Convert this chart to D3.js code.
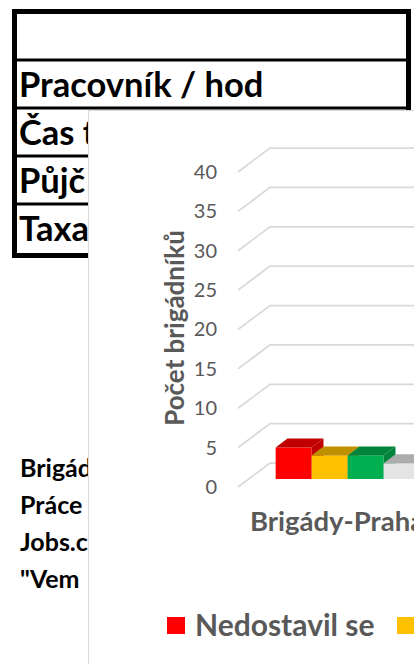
<!DOCTYPE html>
<html>
<head>
<meta charset="utf-8">
<script src="https://cdn.jsdelivr.net/npm/d3@7"></script>
<style>
  html, body { margin: 0; padding: 0; background: #fff; }
  svg { display: block; font-family: Lato, "Open Sans", sans-serif; }
</style>
</head>
<body>
<svg id="main_svg" width="414" height="664"></svg>
<script>
// sheet cells behind the chart
const tableRows = ['', 'Pracovník / hod', 'Čas t', 'Půjč', 'Taxa'];
const sourceRows = ['Brigád', 'Práce', 'Jobs.c', '"Vem'];

// chart data
const categories = ['Brigády-Praha'];
const seriesNames = ['Nedostavil se', 'Řada 2', 'Řada 3', 'Řada 4'];
const seriesValues = [4, 3, 3, 2];
const yTicks = [0, 5, 10, 15, 20, 25, 30, 35, 40];

const frontColor = d3.scaleOrdinal(seriesNames, ['#ff0000', '#ffc000', '#00b050', '#e4e4e4']);
const topColor = d3.scaleOrdinal(seriesNames, ['#c00000', '#bf9000', '#00843c', '#acacac']);
const textGrey = '#595959';

const svg = d3.select('#main_svg');

// table
/////////////////////////////////////
const rowScale = d3.scaleBand()
  .domain(d3.range(tableRows.length))
  .range([12, 252]);

svg.append('g')
  .selectAll('text')
  .data(tableRows)
  .enter()
  .append('text')
  .attr('x', 19)
  .attr('y', (d, i) => rowScale(i) + rowScale.bandwidth() - 11)
  .style('font-size', '34.5px')
  .style('font-weight', 700)
  .attr('fill', '#000')
  .text(d => d);

// row separators
svg.append('g')
  .selectAll('line')
  .data(d3.range(1, tableRows.length))
  .enter()
  .append('line')
  .attr('x1', 14)
  .attr('x2', 408)
  .attr('y1', i => rowScale(i))
  .attr('y2', i => rowScale(i))
  .attr('stroke', '#000')
  .attr('stroke-width', 3);

// outer border
svg.append('rect')
  .attr('x', 14.5)
  .attr('y', 11.5)
  .attr('width', 394)
  .attr('height', 244)
  .attr('fill', 'none')
  .attr('stroke', '#000')
  .attr('stroke-width', 5);

// source list under the table
svg.append('g')
  .selectAll('text')
  .data(sourceRows)
  .enter()
  .append('text')
  .attr('x', 20)
  .attr('y', (d, i) => 477 + i * 37)
  .style('font-size', '25px')
  .style('font-weight', 700)
  .attr('fill', '#000')
  .text(d => d);

// chart area
/////////////////////////////////////
svg.append('rect')
  .attr('x', 88.5)
  .attr('y', 110.5)
  .attr('width', 400)
  .attr('height', 600)
  .attr('fill', '#fff')
  .attr('stroke', '#d9d9d9');

// 3d offset of the back wall
const depth = { dx: 32, dy: -24 };
const barFront = 1 / 3;
const barDepth = 0.37;

const y = d3.scaleLinear().domain([0, 40]).range([487, 172]);

const x = d3.scaleBand()
  .domain(categories)
  .range([238, 436])
  .paddingInner(0)
  .paddingOuter(0.1875);

const xSeries = d3.scaleBand()
  .domain(seriesNames)
  .range([0, x.bandwidth()]);

// gridlines: diagonal on the side wall, then flat along the back wall
svg.append('g')
  .selectAll('path')
  .data(yTicks)
  .enter()
  .append('path')
  .attr('d', function(t) {
    let x0 = x.range()[0];
    let y0 = y(t);
    return 'M' + x0 + ',' + y0 +
      'L' + (x0 + depth.dx) + ',' + (y0 + depth.dy) +
      'L' + (x.range()[1] + depth.dx) + ',' + (y0 + depth.dy);
  })
  .attr('fill', 'none')
  .attr('stroke', '#d9d9d9')
  .attr('stroke-width', 1.75);

// y axis labels
const yAxis = svg.append('g')
  .attr('transform', 'translate(226,0)')
  .call(d3.axisLeft(y).tickValues(yTicks).tickSize(0).tickPadding(9));

yAxis.select('.domain').remove();
yAxis.selectAll('text')
  .attr('fill', textGrey)
  .style('font-family', 'Lato, sans-serif')
  .style('font-size', '20px');

// bars
const bars = svg.append('g')
  .selectAll('g')
  .data(seriesNames.map((s, i) => ({ name: s, value: seriesValues[i], cat: categories[0] })))
  .enter()
  .append('g');

function frontBox(d) {
  let x0 = x(d.cat) + xSeries(d.name) + barFront * depth.dx;
  let yTop = y(d.value) + barFront * depth.dy;
  let yBot = y(0) + barFront * depth.dy;
  return { x0: x0, x1: x0 + xSeries.bandwidth(), yTop: yTop, yBot: yBot };
}

bars.append('rect')
  .attr('x', d => frontBox(d).x0)
  .attr('y', d => frontBox(d).yTop)
  .attr('width', xSeries.bandwidth())
  .attr('height', d => frontBox(d).yBot - frontBox(d).yTop)
  .attr('fill', d => frontColor(d.name));

bars.append('path')
  .attr('d', function(d) {
    let b = frontBox(d);
    let ox = barDepth * depth.dx;
    let oy = barDepth * depth.dy;
    return 'M' + b.x0 + ',' + b.yTop + 'L' + b.x1 + ',' + b.yTop +
      'L' + (b.x1 + ox) + ',' + (b.yTop + oy) + 'L' + (b.x0 + ox) + ',' + (b.yTop + oy) + 'Z';
  })
  .attr('fill', d => topColor(d.name));

bars.append('path')
  .attr('d', function(d) {
    let b = frontBox(d);
    let ox = barDepth * depth.dx;
    let oy = barDepth * depth.dy;
    return 'M' + b.x1 + ',' + b.yTop + 'L' + (b.x1 + ox) + ',' + (b.yTop + oy) +
      'L' + (b.x1 + ox) + ',' + (b.yBot + oy) + 'L' + b.x1 + ',' + b.yBot + 'Z';
  })
  .attr('fill', d => topColor(d.name));

// category label
svg.append('g')
  .selectAll('text')
  .data(categories)
  .enter()
  .append('text')
  .attr('x', d => x(d) + x.bandwidth() / 2)
  .attr('y', 531)
  .attr('text-anchor', 'middle')
  .attr('fill', textGrey)
  .style('font-size', '27.5px')
  .style('font-weight', 700)
  .text(d => d);

// y axis title
svg.append('text')
  .attr('transform', 'translate(184,328) rotate(-90)')
  .attr('text-anchor', 'middle')
  .attr('fill', textGrey)
  .style('font-size', '26px')
  .style('font-weight', 700)
  .text('Počet brigádníků');

// legend
const legend = svg.append('g')
  .selectAll('g')
  .data(seriesNames)
  .enter()
  .append('g')
  .attr('transform', (d, i) => 'translate(' + (167 + i * 230) + ',617)');

legend.append('rect')
  .attr('width', 18)
  .attr('height', 17)
  .attr('fill', d => frontColor(d));

legend.append('text')
  .attr('x', 28)
  .attr('y', 19)
  .attr('fill', textGrey)
  .style('font-size', '30px')
  .style('font-weight', 700)
  .text(d => d);
</script>
</body>
</html>
